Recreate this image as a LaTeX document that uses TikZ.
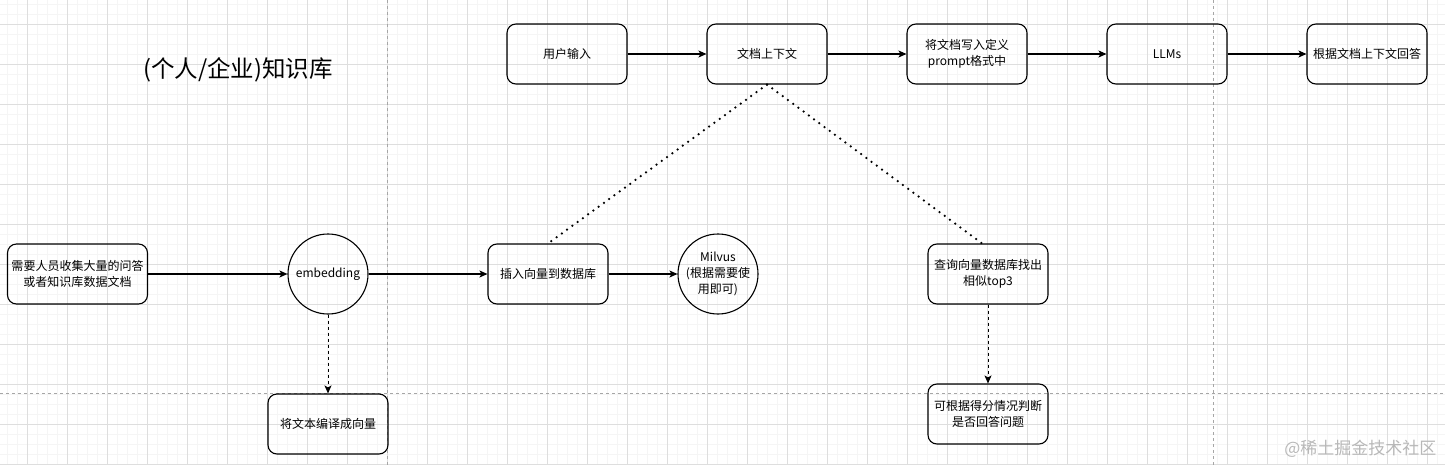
\documentclass[tikz,border=0pt]{standalone}
\usepackage{fontspec}
\setmainfont{Noto Sans CJK SC}
\usetikzlibrary{arrows.meta}
\tikzset{
  box/.style={draw, line width=1.1pt, rounded corners=9pt, minimum width=120pt, minimum height=60pt, align=center, inner sep=1pt, font=\fontsize{12}{16}\selectfont},
  circ/.style={draw, line width=1.1pt, circle, minimum size=80pt, align=center, inner sep=0pt, font=\fontsize{12}{16}\selectfont},
  flow/.style={line width=1.1pt, -{Stealth[length=8pt,width=7pt,inset=2pt]}},
  dflow/.style={line width=1pt, dash pattern=on 3.5pt off 2.5pt, -{Stealth[length=8pt,width=7pt,inset=2pt]}},
  dotline/.style={line width=2.5pt, line cap=round, dash pattern=on 0pt off 6.5pt},
  minorgrid/.style={draw=black!4, line width=0.5pt},
  majorgrid/.style={draw=black!13, line width=0.8pt},
  pagebreak/.style={draw=black!35, line width=0.8pt, dash pattern=on 3pt off 3pt},
}
\begin{document}
\begin{tikzpicture}[x=1pt,y=-1pt]
\useasboundingbox (0,0) rectangle (1445,465);
\fill[white] (0,0) rectangle (1445,465);
% grid
\foreach \i in {0,...,144} { \draw[minorgrid] (7+10*\i,0) -- (7+10*\i,465); }
\foreach \j in {0,...,46} { \draw[minorgrid] (0,4+10*\j) -- (1445,4+10*\j); }
\foreach \i in {0,...,35} { \draw[majorgrid] (27+40*\i,0) -- (27+40*\i,465); }
\foreach \j in {0,...,11} { \draw[majorgrid] (0,24+40*\j) -- (1445,24+40*\j); }
% page breaks
\draw[pagebreak] (387,0) -- (387,465);
\draw[pagebreak] (1213,0) -- (1213,465);
\draw[pagebreak] (0,393.5) -- (1445,393.5);

% title
\node[font=\fontsize{23.5}{26}\selectfont] (title) at (238,70) {(个人/企业)知识库};

% top row
\node[box] (user) at (567,54) {用户输入};
\node[box] (ctx) at (767,54) {文档上下文};
\node[box] (prompt) at (967,54) {将文档写入定义\\prompt格式中};
\node[box] (llm) at (1167,54) {LLMs};
\node[box] (ans) at (1367,54) {根据文档上下文回答};

% middle row
\node[box, minimum width=140pt] (collect) at (77.5,274) {需要人员收集大量的问答\\或者知识库数据文档};
\node[circ] (emb) at (328,274) {embedding};
\node[box] (insert) at (548,274) {插入向量到数据库};
\node[circ] (milvus) at (718,274) {Milvus\\(根据需要使\\用即可)};
\node[box] (query) at (988,274) {查询向量数据库找出\\相似top3};

% bottom row
\node[box] (encode) at (328,424) {将文本编译成向量};
\node[box] (judge) at (988,414) {可根据得分情况判断\\是否回答问题};

% watermark
\node[text=black!28, font=\fontsize{17}{20}\selectfont, anchor=east] (wm) at (1440,449) {@稀土掘金技术社区};

% connectors
\draw[flow] (user) -- (ctx);
\draw[flow] (ctx) -- (prompt);
\draw[flow] (prompt) -- (llm);
\draw[flow] (llm) -- (ans);
\draw[flow] (collect) -- (emb);
\draw[flow] (emb) -- (insert);
\draw[flow] (insert) -- (milvus);
\draw[dflow] (emb.south) -- (encode.north);
\draw[dflow] (query.south) -- (judge.north);
\draw[dotline] (ctx.south) -- (insert.north);
\draw[dotline] (ctx.south) -- ([xshift=-6pt]query.north);
\end{tikzpicture}
\end{document}
